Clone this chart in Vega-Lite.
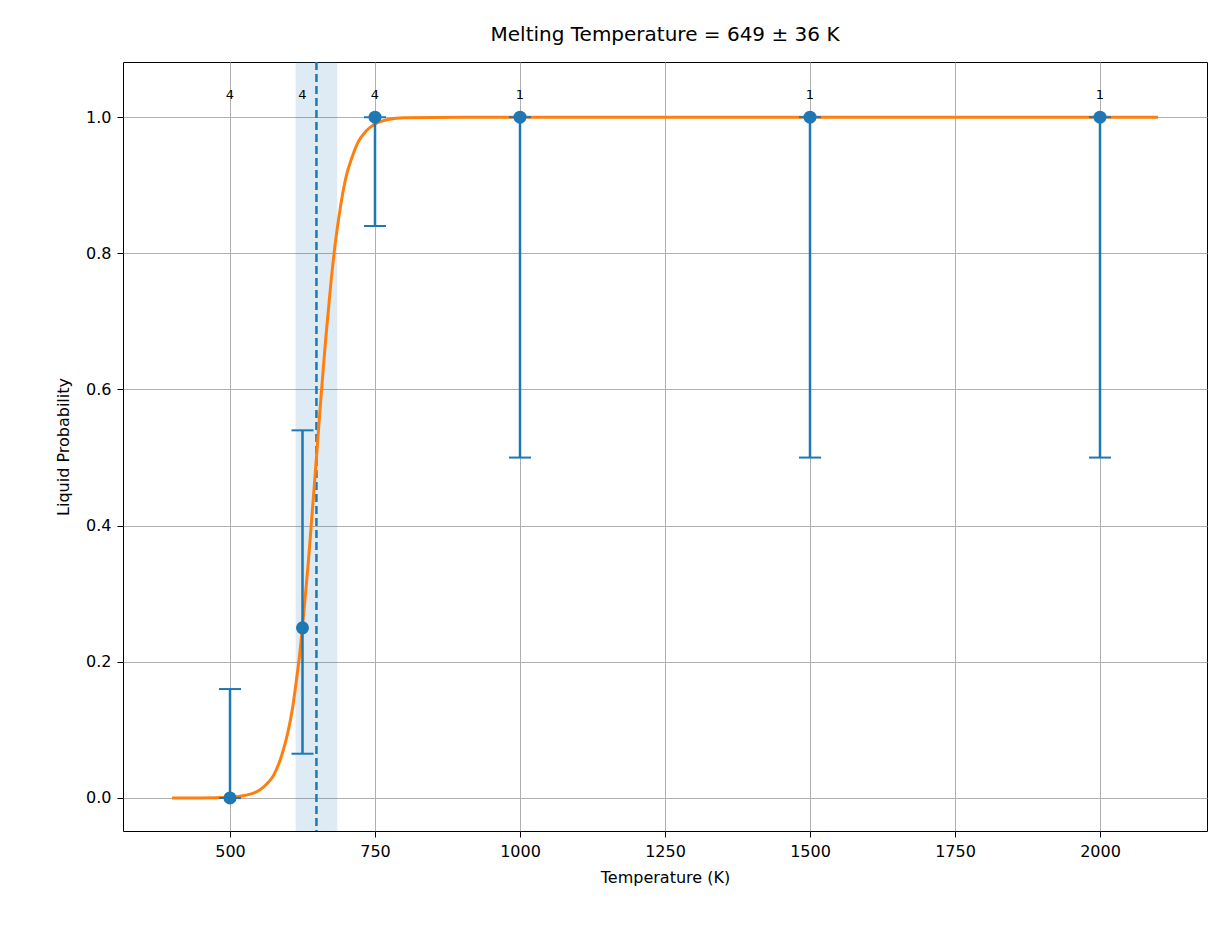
{
  "$schema": "https://vega.github.io/schema/vega-lite/v6.json",
  "width": 1084,
  "height": 769,
  "autosize": "none",
  "padding": {"left": 123, "top": 62, "right": 20, "bottom": 108},
  "background": "white",
  "config": {
    "font": "DejaVu Sans",
    "view": {"stroke": "black", "strokeWidth": 1},
    "axis": {"gridColor": "#b0b0b0", "gridOpacity": 1, "domain": false, "tickColor": "black", "labelColor": "black", "labelFontSize": 16, "titleFontSize": 16, "titleFontWeight": "normal", "titleColor": "black", "tickSize": 6, "labelPadding": 6}
  },
  "title": {"text": "Melting Temperature = 649 ± 36 K", "fontSize": 20, "fontWeight": "normal", "offset": 16},
  "datasets": {
    "pts": [
      {"T": 500, "p": 0, "lo": 0, "hi": 0.16, "n": 4},
      {"T": 625, "p": 0.25, "lo": 0.065, "hi": 0.54, "n": 4},
      {"T": 750, "p": 1, "lo": 0.84, "hi": 1, "n": 4},
      {"T": 1000, "p": 1, "lo": 0.5, "hi": 1, "n": 1},
      {"T": 1500, "p": 1, "lo": 0.5, "hi": 1, "n": 1},
      {"T": 2000, "p": 1, "lo": 0.5, "hi": 1, "n": 1}
    ],
    "fit": [
      {"T": 400, "p": 0}, {"T": 450, "p": 0.0001}, {"T": 500, "p": 0.0012}, {"T": 525, "p": 0.0036}, {"T": 550, "p": 0.011},
      {"T": 565, "p": 0.022}, {"T": 575, "p": 0.033}, {"T": 590, "p": 0.065}, {"T": 600, "p": 0.097}, {"T": 608, "p": 0.133}, {"T": 615, "p": 0.176}, {"T": 620, "p": 0.21}, {"T": 625, "p": 0.252},
      {"T": 630, "p": 0.298}, {"T": 635, "p": 0.346}, {"T": 640, "p": 0.4}, {"T": 645, "p": 0.455}, {"T": 650, "p": 0.511}, {"T": 655, "p": 0.568}, {"T": 660, "p": 0.622}, {"T": 665, "p": 0.674},
      {"T": 670, "p": 0.72}, {"T": 675, "p": 0.765}, {"T": 682, "p": 0.818}, {"T": 690, "p": 0.866}, {"T": 700, "p": 0.912}, {"T": 710, "p": 0.94}, {"T": 720, "p": 0.962},
      {"T": 735, "p": 0.98}, {"T": 750, "p": 0.99}, {"T": 775, "p": 0.997}, {"T": 800, "p": 0.999}, {"T": 900, "p": 1}, {"T": 2100, "p": 1}
    ],
    "melt": [{"Tm": 649, "lo": 613, "hi": 685}]
  },
  "layer": [
    {
      "data": {"name": "melt"},
      "mark": {"type": "rect", "color": "#1f77b4", "opacity": 0.15},
      "encoding": {
        "x": {"field": "lo", "type": "quantitative", "scale": {"domain": [315.5, 2184.5], "nice": false, "zero": false},
              "axis": {"values": [500, 750, 1000, 1250, 1500, 1750, 2000], "format": "d", "title": "Temperature (K)", "titlePadding": 10}},
        "x2": {"field": "hi"}
      }
    },
    {
      "data": {"name": "melt"},
      "mark": {"type": "rule", "color": "#1f77b4", "strokeWidth": 2.5, "strokeDash": [8, 4]},
      "encoding": {"x": {"field": "Tm", "type": "quantitative"}}
    },
    {
      "data": {"name": "fit"},
      "mark": {"type": "line", "color": "#ff7f0e", "strokeWidth": 3, "interpolate": "monotone"},
      "encoding": {
        "x": {"field": "T", "type": "quantitative"},
        "y": {"field": "p", "type": "quantitative", "scale": {"domain": [-0.0485, 1.081], "nice": false, "zero": false},
              "axis": {"values": [0, 0.2, 0.4, 0.6, 0.8, 1.0], "format": ".1f", "title": "Liquid Probability", "titlePadding": 14}}
      }
    },
    {
      "data": {"name": "pts"},
      "mark": {"type": "rule", "color": "#1f77b4", "strokeWidth": 2.5},
      "encoding": {"x": {"field": "T", "type": "quantitative"}, "y": {"field": "lo", "type": "quantitative"}, "y2": {"field": "hi"}}
    },
    {
      "data": {"name": "pts"},
      "mark": {"type": "tick", "color": "#1f77b4", "opacity": 1, "orient": "horizontal", "size": 22, "thickness": 2},
      "encoding": {"x": {"field": "T", "type": "quantitative"}, "y": {"field": "lo", "type": "quantitative"}}
    },
    {
      "data": {"name": "pts"},
      "mark": {"type": "tick", "color": "#1f77b4", "opacity": 1, "orient": "horizontal", "size": 22, "thickness": 2},
      "encoding": {"x": {"field": "T", "type": "quantitative"}, "y": {"field": "hi", "type": "quantitative"}}
    },
    {
      "data": {"name": "pts"},
      "mark": {"type": "point", "filled": true, "color": "#1f77b4", "opacity": 1, "size": 170},
      "encoding": {"x": {"field": "T", "type": "quantitative"}, "y": {"field": "p", "type": "quantitative"}}
    },
    {
      "data": {"name": "pts"},
      "mark": {"type": "text", "fontSize": 13, "color": "black", "dy": -9},
      "encoding": {"x": {"field": "T", "type": "quantitative"}, "y": {"datum": 1.02, "type": "quantitative"}, "text": {"field": "n"}}
    }
  ]
}
